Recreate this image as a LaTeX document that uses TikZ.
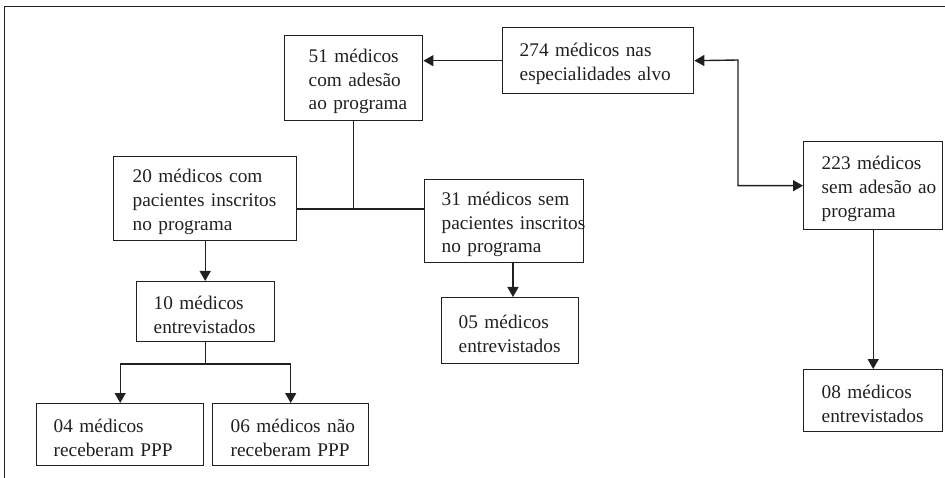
\documentclass[tikz,border=0pt]{standalone}
\usepackage{fontspec}
\setmainfont{Liberation Serif}
\usetikzlibrary{arrows.meta}
\definecolor{ink}{RGB}{35,31,32}
\begin{document}
\begin{tikzpicture}[x=1pt,y=-1pt,
  font=\fontsize{19.3}{23.8}\selectfont,
  box/.style n args={3}{draw=ink, text=ink, line width=1.4pt, anchor=north west,
    inner xsep=0pt, inner ysep=0pt, minimum width=#1, text width=#1,
    minimum height=#2, align=left,
    execute at begin node={\leftskip=#3\relax\hyphenpenalty=10000\relax\tolerance=10000\relax\hbadness=10000\relax\hfuzz=100pt\relax\rule{0pt}{20pt}}},
  conn/.style={draw=ink, line width=1.4pt},
  arr/.style={conn, -{Triangle[length=10pt,width=11pt]}},
  arrboth/.style={conn, {Triangle[length=10pt,width=11pt]}-{Triangle[length=10pt,width=11pt]}},
  frame/.style={draw=ink, line width=1pt}]
\useasboundingbox (0,0) rectangle (945,478);
\draw[frame] (4,478) -- (4,7) -- (945,7);

\node[box={138pt}{85pt}{24pt}] (b51) at (284,35) {51~médicos\\com~adesão\\ao~programa};
\node[box={191pt}{66pt}{17pt}] (b274) at (502,27) {274~médicos~nas\\especialidades~alvo};
\node[box={139pt}{88pt}{18pt}] (b223) at (803,141) {223~médicos\\sem~adesão~ao\\programa};
\node[box={139pt}{62pt}{18pt}] (b08) at (803,369) {08~médicos\\entrevistados};
\node[box={183pt}{84pt}{19pt}] (b20) at (113,156) {20~médicos~com\\pacientes~inscritos\\no~programa};
\node[box={159pt}{83pt}{17pt}] (b31) at (424,179) {31~médicos~sem\\pacientes~inscritos\\no~programa};
\node[box={138pt}{60pt}{17pt}] (b10) at (136,281) {10~médicos\\entrevistados};
\node[box={137pt}{66pt}{17pt}] (b05) at (441,297) {05~médicos\\entrevistados};
\node[box={167pt}{62pt}{17pt}] (b04) at (36,403) {04~médicos\\receberam~PPP};
\node[box={156pt}{62pt}{18pt}] (b06) at (212,403) {06~médicos~não\\receberam~PPP};

\coordinate (j) at (738,60);
\coordinate (hub) at (354,209);
\coordinate (split) at (205,364);
\coordinate (c31) at (513,0);

\draw[arr] (b274.west) -- (b274.west -| b51.east);
\draw[arrboth] (b274.east) -- (j) |- (b223.west);
\draw[conn] (b51.south) -- (b51.south |- hub);
\draw[conn] (b20.east |- hub) -- (b31.west |- hub);
\draw[arr] (b20.south) -- (b20.south |- b10.north);
\draw[arr] (b31.south -| c31) -- (b05.north -| c31);
\draw[arr] (b223.south) -- (b223.south |- b08.north);
\draw[conn] (b10.south) -- (b10.south |- split);
\draw[conn] (b04.north |- split) -- (b06.north |- split);
\draw[arr] (b04.north |- split) -- (b04.north);
\draw[arr] (b06.north |- split) -- (b06.north);
\end{tikzpicture}
\end{document}
